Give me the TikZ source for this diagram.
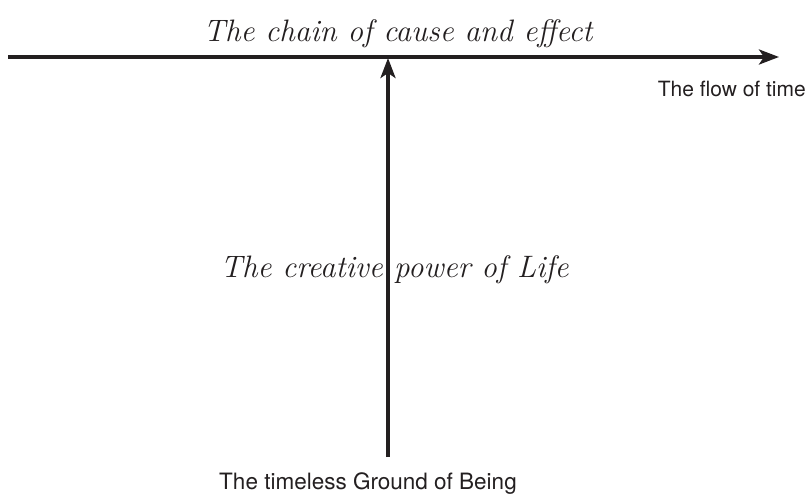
\documentclass[tikz,border=0pt]{standalone}
\usepackage{fontspec}
\usepackage{tikz}
\usetikzlibrary{arrows.meta,positioning}
\newfontfamily\heros{TeX Gyre Heros}
\definecolor{axisBlack}{HTML}{231F20}

\begin{document}
\begin{tikzpicture}[x=1pt,y=-1pt,
        script/.style={font=\fontsize{31}{36}\selectfont\itshape, text=axisBlack, inner sep=0pt},
        plain/.style={font=\heros\fontsize{22.5}{26}\selectfont, text=axisBlack, inner sep=0pt},
        flow/.style={-{Stealth[length=20pt,width=15pt,inset=5pt]}, line width=3.5pt, draw=axisBlack}
    ]
        \useasboundingbox (0,0) rectangle (810,497);

        \coordinate (past) at (8,57);
        \coordinate (future) at (779,57);
        \coordinate (ground) at (388,457);
        \coordinate (meet) at (388,58);

        \node[script, anchor=base] (chain) at (398,42) {The chain of cause and effect};
        \node[plain, anchor=base east, font=\heros\fontsize{21}{25}\selectfont] (time) at (806,97) {The flow of time};
        \node[script, anchor=base east] (creative) at (383,277) {The creative};
        \node[script, anchor=base west] (power) at (394,277) {power of Life};
        \node[plain, anchor=base] (being) at (368,489) {The timeless Ground of Being};

        \draw[flow] (past) -- (future);
        \draw[flow] (ground) -- (meet);
    \end{tikzpicture}
\end{document}
